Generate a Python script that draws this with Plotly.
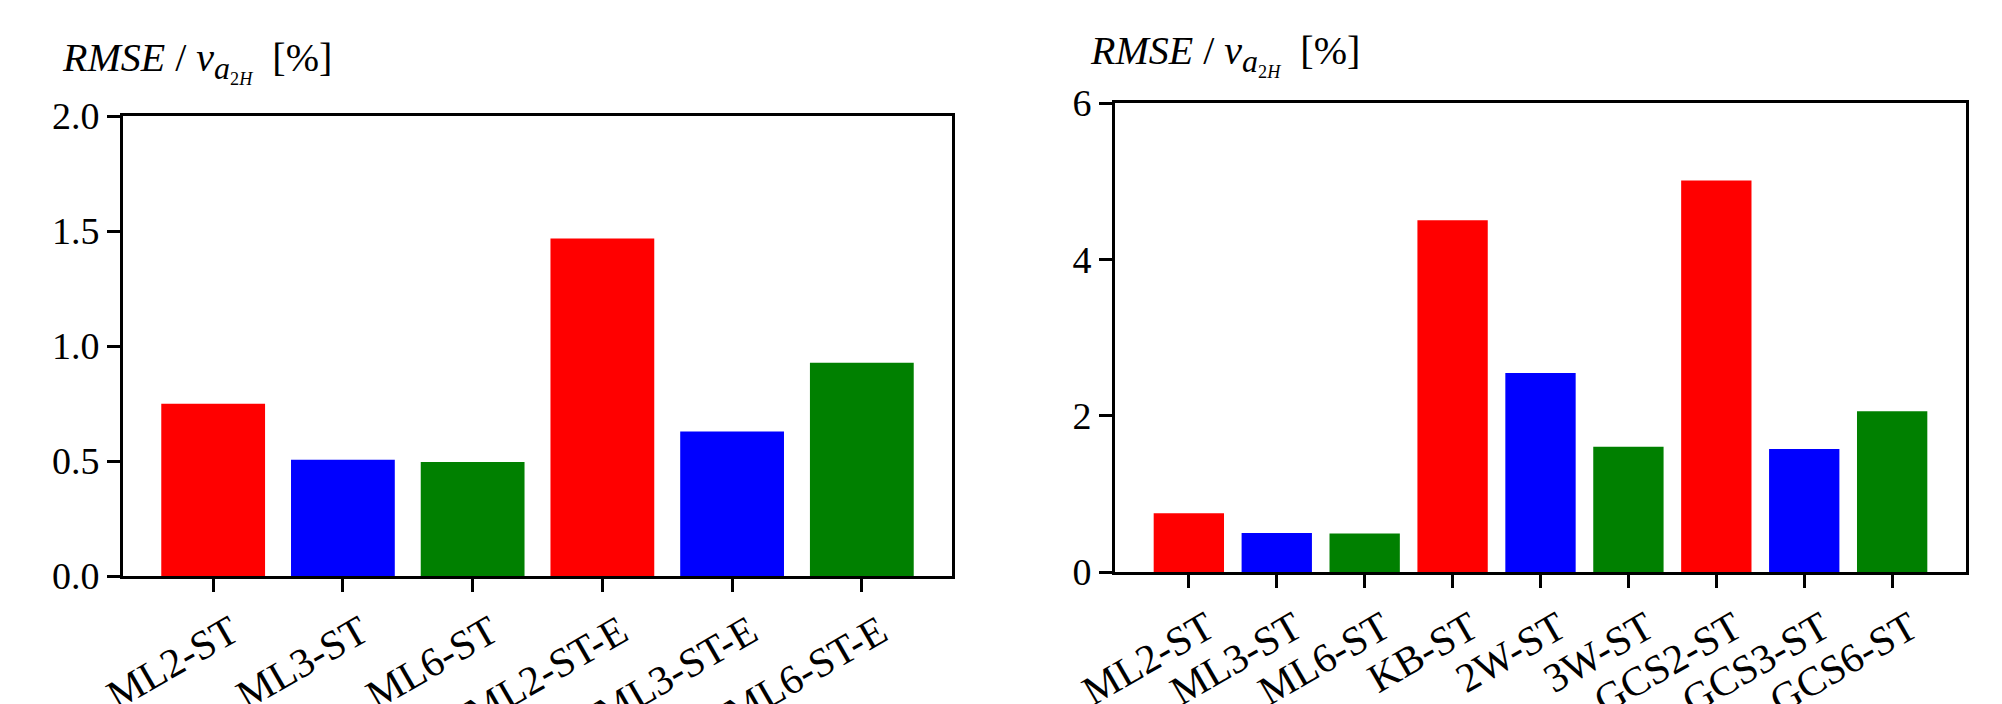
import plotly.graph_objects as go

W, H = 2002, 704

left_categories = ["ML2-ST", "ML3-ST", "ML6-ST", "ML2-ST-E", "ML3-ST-E", "ML6-ST-E"]
left_values = [0.749, 0.505, 0.496, 1.467, 0.628, 0.927]
left_colors = ["#ff0000", "#0000ff", "#008000", "#ff0000", "#0000ff", "#008000"]
left_ticks = [0.0, 0.5, 1.0, 1.5, 2.0]

right_categories = ["ML2-ST", "ML3-ST", "ML6-ST", "KB-ST", "2W-ST", "3W-ST",
                    "GCS2-ST", "GCS3-ST", "GCS6-ST"]
right_values = [0.753, 0.500, 0.494, 4.50, 2.546, 1.603, 5.01, 1.575, 2.057]
right_colors = ["#ff0000", "#0000ff", "#008000", "#ff0000", "#0000ff", "#008000",
                "#ff0000", "#0000ff", "#008000"]
right_ticks = [0, 2, 4, 6]

ylabel = ("<i>RMSE</i> / <i>v</i><sub><span style='font-size:32px'><i>a</i></span>"
          "<span style='font-size:26px'><sub>2<i>H</i></sub></span></sub>  [%]")

fig = go.Figure()
fig.add_trace(go.Bar(x=left_categories, y=left_values, marker=dict(color=left_colors, line=dict(width=0)),
                     width=0.8, xaxis="x", yaxis="y", showlegend=False))
fig.add_trace(go.Bar(x=right_categories, y=right_values, marker=dict(color=right_colors, line=dict(width=0)),
                     width=0.8, xaxis="x2", yaxis="y2", showlegend=False))

yfont = dict(family="Liberation Serif", size=38, color="black")
xfont = dict(family="Liberation Serif", size=41, color="black")
axis_common = dict(showline=True, linecolor="black", linewidth=3, mirror=True,
                   ticks="outside", ticklen=13, tickwidth=3, tickcolor="black",
                   showgrid=False, zeroline=False, automargin=False)
xaxis_extra = dict(tickangle=-30, ticklabelshift=18, ticklabelstandoff=0, tickfont=xfont)

fig.update_layout(
    width=W, height=H,
    margin=dict(l=0, r=0, t=0, b=0, autoexpand=False),
    paper_bgcolor="white", plot_bgcolor="white",
    font=yfont,
    bargap=0.2,
    xaxis=dict(domain=[123 / W, 952 / W], anchor="y", type="category",
               range=[-0.695, len(left_categories) - 1 + 0.695], **xaxis_extra, **axis_common),
    yaxis=dict(domain=[1 - 576 / H, 1 - 116 / H], anchor="x", range=[0, 2],
               tickvals=left_ticks, tickformat=".1f", tickfont=yfont, **axis_common),
    xaxis2=dict(domain=[1115 / W, 1966 / W], anchor="y2", type="category",
                range=[-0.84, len(right_categories) - 1 + 0.84], **xaxis_extra, **axis_common),
    yaxis2=dict(domain=[1 - 572 / H, 1 - 103 / H], anchor="x2", range=[0, 6],
                tickvals=right_ticks, tickfont=yfont, **axis_common),
    annotations=[
        dict(text=ylabel, xref="paper", yref="paper", x=60 / W, y=1 - 62 / H,
             xanchor="left", yanchor="middle", showarrow=False,
             font=dict(family="Liberation Serif", size=40, color="black")),
        dict(text=ylabel, xref="paper", yref="paper", x=1088 / W, y=1 - 55 / H,
             xanchor="left", yanchor="middle", showarrow=False,
             font=dict(family="Liberation Serif", size=40, color="black")),
    ],
)

fig.write_html("out.html", config={"displayModeBar": False},
               post_script="document.body.style.margin='0';document.body.style.overflow='hidden';")
